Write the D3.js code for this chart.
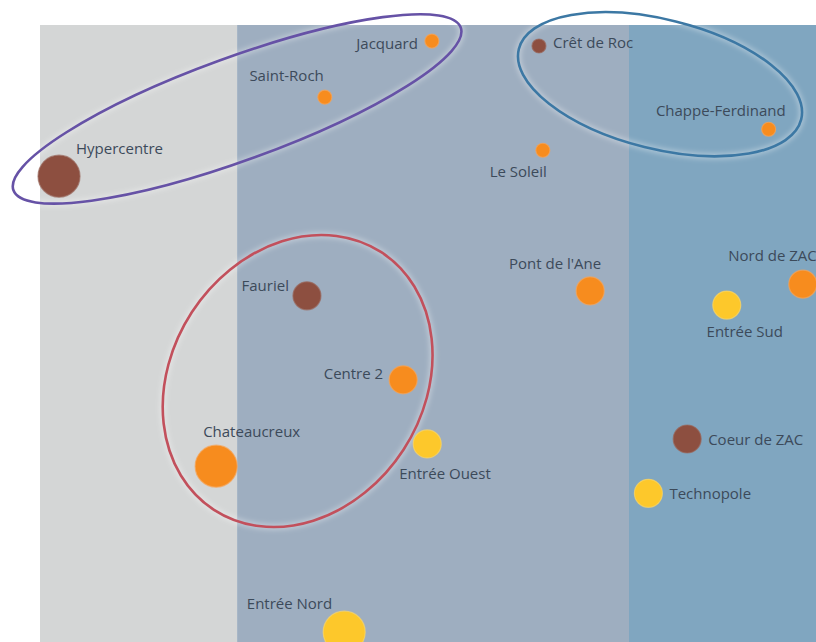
<!DOCTYPE html>
<html>
<head>
<meta charset="utf-8">
<script src="https://cdn.jsdelivr.net/npm/d3@7"></script>
<style>
  html, body { margin: 0; padding: 0; background: #ffffff; }
  svg { display: block; }
  text { font-family: "Open Sans", "Noto Sans", sans-serif; }
</style>
</head>
<body>
<svg id="chart" width="816" height="642"></svg>
<script>
// ---------- DATA ----------
const names = ["Hypercentre","Saint-Roch","Jacquard","Crêt de Roc","Chappe-Ferdinand","Le Soleil",
  "Pont de l'Ane","Nord de ZAC","Entrée Sud","Fauriel","Centre 2","Entrée Ouest",
  "Chateaucreux","Coeur de ZAC","Technopole","Entrée Nord"];
const xValues = [2.45, 36.7, 50.5, 64.3, 93.9, 64.8, 70.9, 98.3, 88.5, 34.4, 46.8, 49.9, 22.7, 83.4, 78.4, 39.2];
const yValues = [75.5, 88.3, 97.4, 96.6, 83.1, 79.7, 56.9, 58.0, 54.6, 56.1, 42.5, 32.1, 28.5, 32.9, 24.1, 1.6];
const sizeClass = [3, 1, 1, 1, 1, 1, 2, 2, 2, 2, 2, 2, 3, 2, 2, 3];
const typeClass = ["brun","orange","orange","brun","orange","orange","orange","orange","jaune",
  "brun","orange","jaune","orange","brun","jaune","jaune"];
const bandEdges = [0, 25.4, 75.9, 100];
const groupMembers = [
  ["Hypercentre","Saint-Roch","Jacquard"],
  ["Crêt de Roc","Chappe-Ferdinand"],
  ["Fauriel","Centre 2","Chateaucreux"]
];

// ---------- LAYOUT / STYLE ----------
const W = 816, H = 642;
const x = d3.scaleLinear().domain([0, 100]).range([40, 816]);
const y = d3.scaleLinear().domain([100, 0]).range([25, 642]);
const r = d3.scaleLinear().domain([0, 3]).range([0, 21]);
const color = d3.scaleOrdinal().domain(["brun","orange","jaune"]).range(["#8d4f40","#f78c1e","#fdc82b"]);
const halo = d3.scaleOrdinal().domain(["brun","orange","jaune"]).range(["#9a6a5e","#f7a457","#fbd567"]);
const bandColors = ["#d4d6d6", "#9eaec0", "#80a6c0"];
// label offsets [dx, dy, anchor]
const labelLayout = [
  [17,-27,"start"],[-1,-21,"end"],[-14,3,"end"],[14,-3,"start"],[17,-19,"end"],[4,21,"end"],
  [11,-27,"end"],[14,-28,"end"],[18,27,"middle"],[-18,-10,"end"],[-20,-6,"end"],[-28,30,"start"],
  [-13,-34,"start"],[21,1,"start"],[21,0,"start"],[-12,-28,"end"]
];
// ellipse geometry per group: centre (data units), semi-axes (px), rotation (deg), stroke colour
const ellipseLayout = [
  { cx: 25.4, cy: 86.4, a: 238, b: 51.5, rot: -20, stroke: "#6652a6" },
  { cx: 79.9, cy: 90.4, a: 145.5, b: 64.7, rot: 14, stroke: "#3c78a4" },
  { cx: 33.2, cy: 42.3, a: 153.6, b: 126.2, rot: -57, stroke: "#c2505c" }
];

const svg = d3.select("#chart");
const defs = svg.append("defs");
const f = defs.append("filter").attr("id","glow").attr("x","-20%").attr("y","-20%").attr("width","140%").attr("height","140%");
f.append("feGaussianBlur").attr("stdDeviation", 2.5);

// bands
svg.append("g").selectAll("rect")
  .data(bandColors)
  .join("rect")
  .attr("x", (d, i) => x(bandEdges[i]))
  .attr("width", (d, i) => x(bandEdges[i + 1]) - x(bandEdges[i]))
  .attr("y", y(100))
  .attr("height", y(0) - y(100))
  .attr("fill", d => d);

const points = names.map((n, i) => ({
  name: n, x: xValues[i], y: yValues[i], s: sizeClass[i], t: typeClass[i], lab: labelLayout[i]
}));

// ellipses
const eg = svg.append("g");
ellipseLayout.forEach((e, i) => {
  const g = eg.append("g")
    .attr("transform", `translate(${x(e.cx)},${y(e.cy)}) rotate(${e.rot})`)
    .attr("data-members", groupMembers[i].join("|"));
  g.append("ellipse").attr("rx", e.a).attr("ry", e.b)
    .attr("fill", "none").attr("stroke", "#ffffff").attr("stroke-opacity", 0.35)
    .attr("stroke-width", 6).attr("filter", "url(#glow)");
  g.append("ellipse").attr("rx", e.a).attr("ry", e.b)
    .attr("fill", "none").attr("stroke", e.stroke).attr("stroke-width", 2.6);
});

// points
svg.append("g").selectAll("circle")
  .data(points)
  .join("circle")
  .attr("cx", d => x(d.x))
  .attr("cy", d => y(d.y))
  .attr("r", d => r(d.s))
  .attr("fill", d => color(d.t))
  .attr("stroke", d => halo(d.t))
  .attr("stroke-opacity", 0.7)
  .attr("stroke-width", 1.2);

// labels
svg.append("g").selectAll("text")
  .data(points)
  .join("text")
  .attr("x", d => x(d.x) + d.lab[0])
  .attr("y", d => y(d.y) + d.lab[1])
  .attr("dy", "0.35em")
  .attr("text-anchor", d => d.lab[2])
  .attr("font-size", 15)
  .attr("fill", "#3c4a5a")
  .text(d => d.name);
</script>
</body>
</html>
